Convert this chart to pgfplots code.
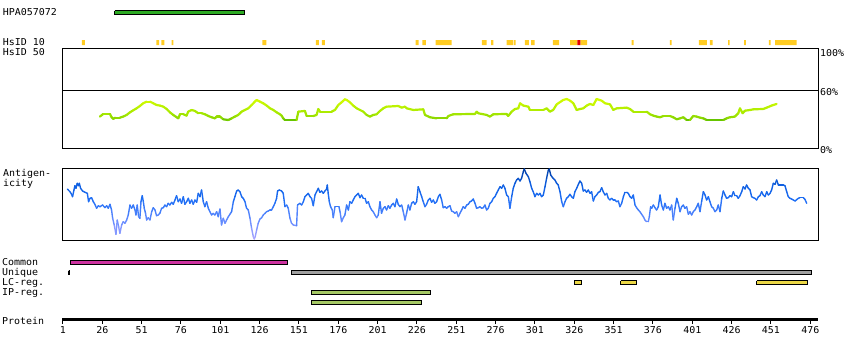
\documentclass[border=0pt]{standalone}
\usepackage{fontspec}
\usepackage{pgfplots}
\usepackage{pgfplotstable}
\pgfplotsset{compat=1.18}
\newfontfamily\mono[FakeStretch=1.05]{DejaVu Sans Mono}
\newcommand\lab{\mono\fontsize{9.5}{10}\selectfont}
\definecolor{hpagreen}{RGB}{45,170,35}
\definecolor{hsgold}{RGB}{255,204,34}
\definecolor{hsred}{RGB}{230,0,0}
\definecolor{commag}{RGB}{205,50,160}
\definecolor{unigrey}{RGB}{160,160,160}
\definecolor{lcyel}{RGB}{235,215,70}
\definecolor{ipgreen}{RGB}{165,200,100}
\pgfplotsset{
  colormap={greenmap}{rgb255(29cm)=(90,190,0); rgb255(31cm)=(140,215,0); rgb255(36cm)=(165,232,0); rgb255(50cm)=(210,252,0)},
  colormap={bluemap}{rgb255(0cm)=(176,168,255); rgb255(20cm)=(100,140,255); rgb255(40cm)=(30,110,245); rgb255(55cm)=(15,95,225); rgb255(72cm)=(0,60,160)},
}
\newcommand\hs[3]{\addplot[fill=#3,draw=none] coordinates {(#1,40) (#2,40) (#2,45) (#1,45) (#1,40)};}
\newcommand\trackbar[5]{\addplot[fill=#5,draw=black,line width=1pt] coordinates {(#1,#3) (#2,#3) (#2,#4) (#1,#4) (#1,#3)};}

\pgfplotstableread{
r v
24.5 33.0
26.6 35.7
30.9 35.7
31.9 32.3
33.0 30.6
34.1 31.9
37.2 31.9
39.3 33.0
41.5 34.7
43.6 37.4
45.7 39.5
47.8 41.5
49.9 43.9
52.0 46.7
54.2 48.4
56.3 48.4
58.4 46.7
60.6 44.9
62.7 44.3
64.8 43.2
66.9 40.8
69.0 37.4
71.1 34.7
73.3 32.3
74.3 31.2
75.4 35.4
77.5 35.4
79.6 34.0
80.6 38.1
82.8 39.8
84.9 38.8
87.0 36.4
89.2 36.4
91.3 35.4
93.4 33.6
95.5 32.3
97.6 31.2
98.7 33.0
100.8 33.0
102.9 30.2
106.1 29.5
108.2 31.2
110.3 33.0
112.4 34.7
114.6 38.1
116.7 39.8
118.8 41.5
120.9 44.9
123.0 48.4
124.1 50.1
126.2 48.4
128.3 46.7
130.5 44.3
132.6 41.5
134.7 39.8
136.8 37.4
138.9 35.4
140.0 34.0
141.0 31.2
142.1 29.5
149.5 29.5
150.6 38.1
154.8 38.8
155.9 33.6
160.1 33.6
162.2 34.7
163.3 40.8
164.4 38.1
171.8 38.1
173.9 39.8
176.0 44.9
178.1 47.7
180.2 50.8
181.3 50.1
183.4 47.7
185.5 44.3
187.7 41.5
189.8 39.8
191.9 38.1
194.0 34.7
196.1 33.0
198.2 34.7
200.4 35.4
202.5 38.8
204.6 41.5
206.7 43.2
214.1 43.9
216.3 42.2
218.4 43.2
219.5 41.5
223.7 39.8
230.0 40.5
231.1 34.7
234.3 32.3
238.5 31.2
244.9 31.2
245.9 33.6
249.1 35.4
262.9 35.7
264.0 38.1
265.0 36.4
270.3 34.7
272.4 33.0
274.5 35.4
283.0 35.7
284.0 33.6
286.2 38.1
288.3 40.8
290.4 41.5
291.5 46.7
293.6 44.3
296.8 43.2
297.8 39.8
306.3 39.8
308.4 41.5
310.5 38.1
312.6 39.8
314.8 45.6
319.0 50.1
321.2 51.1
323.3 49.4
325.4 46.7
327.5 39.8
329.6 40.8
331.7 41.5
333.9 44.3
336.0 46.0
338.1 44.9
340.2 51.1
343.4 49.4
345.5 46.7
348.7 45.6
350.8 39.8
352.9 41.5
359.3 42.2
361.4 40.8
363.5 38.1
372.0 38.1
374.1 35.4
376.2 34.0
378.4 33.0
380.5 32.3
382.6 33.6
386.8 33.6
388.9 32.3
391.1 30.2
393.2 31.2
395.3 32.3
397.4 29.5
399.5 29.5
401.6 33.6
403.8 33.0
405.9 31.9
408.0 31.2
410.1 29.5
420.7 29.5
422.8 31.2
424.9 32.3
428.1 33.0
430.2 36.4
431.3 41.5
433.0 36.4
434.5 39.1
437.7 39.8
439.8 40.5
446.1 40.8
448.3 42.2
451.4 44.3
454.6 46.0
}\greendata

\pgfplotstableread{
r v
3.75 51.0
5.45 48.3
6.5 45.7
7.1 43.3
8.0 50.0
8.6 54.3
9.3 51.7
10.1 56.7
10.7 54.3
11.4 56.7
12.2 51.7
13.5 49.0
15.0 47.7
16.5 46.7
17.3 38.3
18.2 41.7
19.2 42.3
20.3 38.3
21.3 35.7
22.4 31.7
23.5 34.3
24.5 33.3
26.2 35.0
27.7 32.3
28.8 34.3
29.8 31.7
30.9 35.7
31.9 30.0
32.6 21.7
33.6 15.0
34.7 5.7
35.5 20.0
36.4 13.3
37.2 6.7
38.3 15.0
39.3 18.3
40.4 16.7
41.5 20.0
42.5 25.0
43.6 35.0
44.6 31.7
45.7 35.0
46.8 30.0
47.4 25.0
48.2 35.0
49.1 23.3
49.9 21.7
50.6 38.3
51.4 44.3
52.1 38.3
52.7 31.7
53.5 26.7
54.2 20.0
55.2 22.3
56.3 20.0
57.4 28.3
58.4 32.3
59.5 30.0
60.5 24.3
61.6 25.0
62.6 26.7
63.7 31.7
64.8 32.3
65.8 35.0
66.9 33.3
67.9 36.7
69.0 35.0
70.1 37.7
71.1 35.7
72.2 40.0
73.2 44.3
74.3 38.3
75.4 41.0
76.4 36.7
77.5 43.3
78.5 35.7
79.6 38.3
80.7 41.7
81.7 36.7
82.8 40.0
83.8 35.7
84.9 40.0
86.0 37.7
87.0 46.7
88.1 43.3
89.1 50.0
90.2 38.3
91.2 33.3
92.3 38.3
93.4 31.7
94.4 28.3
95.5 25.0
96.5 26.7
97.6 25.0
98.7 28.3
99.7 23.3
100.8 31.0
101.8 15.0
102.9 21.7
104.0 16.7
105.0 20.0
106.1 23.3
107.1 25.7
108.2 28.3
109.3 38.3
110.3 43.3
111.4 49.0
112.4 50.0
113.5 48.3
114.6 43.3
115.6 41.7
116.7 38.3
117.7 31.7
118.8 30.0
119.9 21.7
120.9 11.7
122.0 3.3
122.6 1.0
123.2 3.3
124.1 10.0
125.1 16.7
126.2 21.0
127.3 22.3
128.3 25.0
129.4 26.7
130.4 28.3
131.5 29.0
132.6 30.0
133.6 30.0
134.7 33.3
135.7 36.7
136.8 41.7
137.4 49.0
138.5 50.0
140.0 49.0
141.0 46.7
142.1 33.3
143.2 35.0
144.2 31.7
145.3 21.7
146.3 16.7
147.4 15.0
149.5 14.3
150.1 35.0
151.6 36.7
152.7 35.0
153.8 38.3
154.8 43.3
155.9 45.0
156.9 46.7
158.0 43.3
159.0 41.7
160.1 34.3
161.2 45.0
162.2 48.3
163.3 51.7
164.3 47.7
165.4 49.0
166.5 46.7
167.5 49.0
168.6 51.0
169.0 55.0
169.6 46.7
170.3 38.3
171.1 33.3
172.2 30.0
172.8 22.3
173.9 33.3
174.9 33.3
176.4 33.3
177.1 28.3
178.1 18.3
179.2 22.3
180.2 25.0
181.3 35.0
182.4 30.0
183.4 38.3
184.5 36.7
185.5 40.0
186.6 43.3
187.7 45.0
188.7 46.7
189.8 42.3
190.8 45.0
191.9 41.7
193.0 41.7
194.0 36.7
195.1 38.3
196.1 33.3
197.2 30.0
198.2 28.3
199.3 25.0
200.4 22.3
201.4 25.0
202.5 38.3
203.5 26.7
204.6 31.7
205.7 33.3
206.7 30.0
207.8 34.3
208.8 31.7
209.9 35.0
211.0 36.7
212.0 33.3
213.1 41.0
214.1 35.7
215.2 33.3
216.3 35.0
217.3 28.3
218.4 20.0
219.4 26.7
220.5 35.0
221.5 30.0
222.6 36.7
223.7 38.3
224.7 35.7
225.8 38.3
226.8 53.3
227.9 48.3
229.0 43.3
230.0 38.3
231.1 33.3
232.1 35.7
233.2 40.0
234.3 41.7
235.3 37.7
236.4 40.0
237.4 36.7
238.5 38.3
239.6 43.3
240.6 45.7
241.7 40.0
242.7 32.3
243.8 33.3
244.9 31.7
245.9 33.3
247.0 34.3
248.0 29.0
249.1 28.3
250.1 26.7
251.2 28.3
252.3 23.3
253.3 26.7
254.4 30.0
255.4 33.3
256.5 31.7
257.6 35.0
258.6 35.7
259.7 38.3
260.7 39.0
261.8 41.0
262.9 36.7
263.9 31.7
265.0 32.3
266.0 33.3
267.1 31.7
268.2 32.3
269.2 35.0
270.3 30.0
271.3 31.7
272.4 36.7
273.5 38.3
274.5 41.7
275.6 43.3
276.6 46.7
277.7 50.0
278.8 53.3
279.8 51.7
280.9 55.0
281.9 51.7
283.0 45.0
284.1 43.3
285.1 31.7
286.2 43.3
287.2 51.7
288.3 56.7
289.3 60.0
290.4 61.7
291.5 59.0
292.5 61.7
293.6 68.3
294.2 71.0
295.3 66.7
296.8 63.3
297.8 58.3
298.9 51.7
299.9 48.3
301.0 43.3
302.1 46.7
303.1 45.0
304.2 46.7
305.2 43.3
306.3 45.0
307.4 53.3
308.4 61.7
309.5 70.0
310.1 71.0
311.0 65.0
312.2 62.3
313.7 60.0
314.8 56.7
315.8 55.0
316.9 48.3
318.0 38.3
319.0 33.3
320.1 38.3
321.1 41.7
322.2 43.3
323.2 45.7
324.3 43.3
325.4 41.7
326.4 48.3
327.5 51.7
328.6 55.7
329.6 59.0
330.7 56.7
331.7 49.0
332.8 50.0
333.8 47.7
334.9 50.0
336.0 46.7
337.0 48.3
338.1 39.0
339.1 43.3
340.2 45.0
341.3 47.7
342.3 48.3
343.4 52.3
344.4 48.3
345.5 45.0
346.6 46.7
347.6 41.7
348.7 40.0
349.7 41.7
350.8 40.0
351.9 40.0
352.9 38.3
354.0 39.0
355.0 33.3
356.1 36.7
357.2 43.3
358.2 47.7
359.3 47.7
360.3 46.7
361.4 43.3
362.4 41.7
363.5 45.0
364.6 35.0
365.6 32.3
366.7 30.0
367.7 28.3
368.8 25.7
369.9 23.3
370.9 20.0
372.0 18.3
373.0 18.3
373.7 23.3
374.5 33.3
375.2 31.7
376.2 35.0
377.3 32.3
378.3 30.0
379.4 33.3
380.5 45.0
381.5 35.0
382.6 30.0
383.6 36.7
384.7 31.7
385.8 33.3
386.8 30.0
387.9 35.0
388.9 20.0
390.0 31.7
391.1 41.7
392.1 36.7
393.2 28.3
394.2 33.3
395.3 35.0
396.3 31.7
397.4 33.3
398.5 25.7
399.5 28.3
400.6 25.0
401.6 28.3
402.7 30.0
403.8 33.3
404.8 36.7
405.9 28.3
406.9 38.3
408.0 48.3
409.1 45.0
410.1 40.0
411.2 43.3
412.2 38.3
413.3 33.3
414.4 31.7
415.4 28.3
416.5 30.0
417.5 35.0
418.6 28.3
419.7 41.7
420.7 49.0
421.8 45.0
422.8 41.7
423.9 42.3
424.9 44.3
426.0 43.3
427.1 48.3
428.1 44.3
429.2 44.3
430.2 41.7
431.3 44.3
432.4 48.3
433.4 53.3
434.5 51.0
435.5 55.0
436.6 51.7
437.7 50.0
438.7 43.3
439.8 42.3
440.8 41.7
441.9 40.0
443.0 43.3
444.0 44.3
445.1 48.3
446.1 45.0
447.2 43.3
448.3 48.3
449.3 45.0
450.4 46.7
451.4 50.0
452.5 56.7
453.6 55.7
454.6 60.0
455.7 55.0
456.7 55.0
457.8 55.0
458.9 55.0
459.9 54.3
461.0 48.3
462.0 43.3
463.1 41.7
464.1 41.0
465.2 40.0
466.3 39.0
467.3 40.3
468.4 41.7
469.4 42.3
470.5 42.3
471.6 42.3
472.6 40.7
473.7 36.7
}\bluedata

\begin{document}
\begin{tikzpicture}[x=1pt,y=1pt]
\path[use as bounding box] (0,0) rectangle (850,360);

% tracks (x: residue, y: pixel row from top)
\begin{axis}[at={(0pt,0pt)}, anchor=south west, width=850pt, height=360pt, scale only axis,
  xmin=-39.006, xmax=501.24, ymin=0, ymax=360, y dir=reverse, hide axis, clip=false]
\trackbar{34.0}{116.4}{10.5}{14.3}{hpagreen}
\hs{13.1}{15.0}{hsgold}
\hs{60.4}{62.2}{hsgold}
\hs{63.5}{65.5}{hsgold}
\hs{70.1}{71.2}{hsgold}
\hs{127.7}{130.3}{hsgold}
\hs{161.7}{163.7}{hsgold}
\hs{165.5}{167.5}{hsgold}
\hs{225.1}{227.1}{hsgold}
\hs{229.5}{231.6}{hsgold}
\hs{237.8}{248.1}{hsgold}
\hs{267.3}{270.2}{hsgold}
\hs{273.2}{274.6}{hsgold}
\hs{283.0}{287.2}{hsgold}
\hs{287.7}{288.7}{hsgold}
\hs{294.6}{297.2}{hsgold}
\hs{298.5}{300.8}{hsgold}
\hs{312.4}{316.3}{hsgold}
\hs{323.3}{327.9}{hsgold}
\hs{329.8}{334.1}{hsgold}
\hs{327.9}{329.8}{hsred}
\hs{362.5}{363.7}{hsgold}
\hs{386.8}{387.9}{hsgold}
\hs{405.2}{410.3}{hsgold}
\hs{412.2}{413.9}{hsgold}
\hs{423.7}{424.8}{hsgold}
\hs{433.9}{435.1}{hsgold}
\hs{449.7}{450.8}{hsgold}
\hs{453.6}{467.3}{hsgold}
\trackbar{5.5}{143.8}{260.5}{264.5}{commag}
\trackbar{4.6}{5.0}{270.5}{274.5}{black}
\trackbar{146.1}{476.5}{270.5}{274.5}{unigrey}
\trackbar{326.1}{330.4}{280.5}{284.5}{lcyel}
\trackbar{355.5}{365.6}{280.5}{284.5}{lcyel}
\trackbar{442.0}{474.5}{280.5}{284.5}{lcyel}
\trackbar{158.9}{234.3}{290.5}{294.5}{ipgreen}
\trackbar{158.9}{229.1}{300.5}{304.5}{ipgreen}
\end{axis}

% HsID 50 panel
\begin{axis}[at={(62pt,211.3pt)}, anchor=south west, width=756pt, height=100.4pt, scale only axis,
  xmin=0.4, xmax=480.9, ymin=0, ymax=103.2, xtick=\empty,
  ytick={0,60,100}, yticklabels={0\%,60\%,100\%}, yticklabel pos=right, major tick length=0pt,
  yticklabel style={font=\lab, anchor=west, inner sep=0pt, xshift=2pt, yshift=-1.5pt},
  axis line style={line width=1pt}, clip=false]
\addplot[black, line width=1pt] coordinates {(0.4,60) (480.9,60)};
\addplot[mesh, colormap name=greenmap, point meta=\thisrow{v}, point meta min=29, point meta max=50,
  line width=2.2pt, line cap=round] table[x=r,y=v] {\greendata};
\end{axis}

% Antigenicity panel
\begin{axis}[at={(62pt,120pt)}, anchor=south west, width=756pt, height=71.7pt, scale only axis,
  xmin=0.4, xmax=480.9, ymin=0, ymax=71.7, xtick=\empty, ytick=\empty,
  axis line style={line width=1pt}]
\addplot[mesh, colormap name=bluemap, point meta=\thisrow{v}, point meta min=0, point meta max=72,
  line width=1.4pt, line cap=round] table[x=r,y=v] {\bluedata};
\end{axis}

% Protein axis
\begin{axis}[at={(62pt,40.3pt)}, anchor=south west, width=756pt, height=10pt, scale only axis,
  xmin=0.4, xmax=480.9, ymin=0, ymax=1, hide y axis, axis x line*=bottom,
  x axis line style={line width=3.5pt,-}, xtick={1,26,...,476}, xtick align=outside,
  major tick length=4.5pt, every tick/.style={black,line width=1pt},
  xticklabel style={font=\lab, inner sep=0pt, yshift=-2pt},
  /pgf/number format/assume math mode=true]
\addplot[draw=none] coordinates {(1,0) (476,0)};
\end{axis}

% labels
\node[anchor=base west, inner sep=0pt] at (2.7,344.5) {\lab HPA057072};
\node[anchor=base west, inner sep=0pt] at (2.7,314.7) {\lab HsID 10};
\node[anchor=base west, inner sep=0pt] at (2.7,304.7) {\lab HsID 50};
\node[anchor=base west, inner sep=0pt] at (3,183.5) {\lab Antigen-};
\node[anchor=base west, inner sep=0pt] at (3,173.5) {\lab icity};
\node[anchor=base west, inner sep=0pt] at (2,94.3) {\lab Common};
\node[anchor=base west, inner sep=0pt] at (2,84.3) {\lab Unique};
\node[anchor=base west, inner sep=0pt] at (2,74.3) {\lab LC-reg.};
\node[anchor=base west, inner sep=0pt] at (2,64.3) {\lab IP-reg.};
\node[anchor=base west, inner sep=0pt] at (2,36) {\lab Protein};
\end{tikzpicture}
\end{document}
